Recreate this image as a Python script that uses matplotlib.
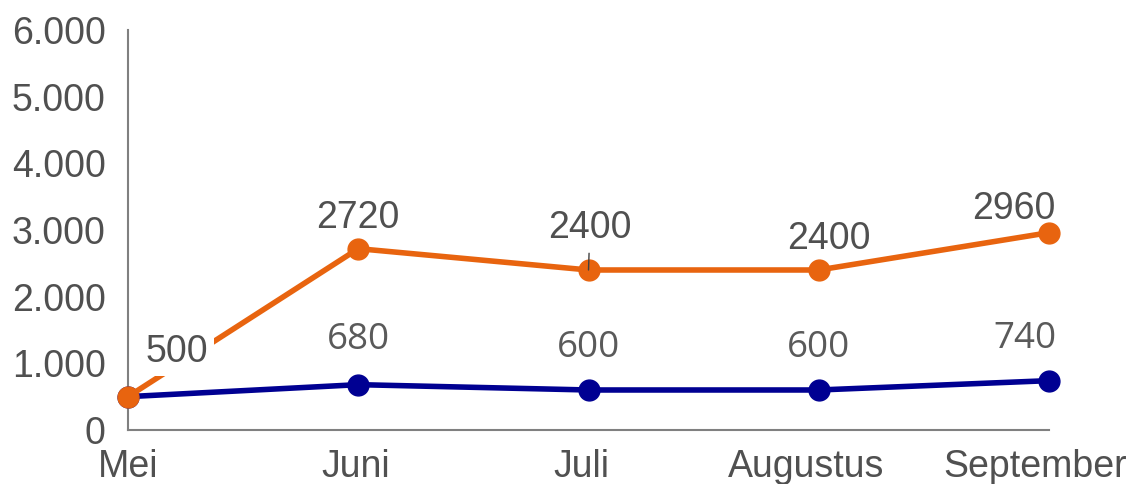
import matplotlib
matplotlib.use("Agg")
import matplotlib.pyplot as plt
from matplotlib.ticker import FuncFormatter
from matplotlib.transforms import ScaledTranslation

maanden = ["Mei", "Juni", "Juli", "Augustus", "September"]
oranje = [500, 2720, 2400, 2400, 2960]
blauw = [500, 680, 600, 600, 740]

# label offsets (points) per punt
oranje_offset = [(35, 32), (0, 22), (1, 30), (7, 22), (-25, 17)]
blauw_offset = [None, (0, 32), (0, 30), (0, 30), (-17, 30)]
# horizontale verschuiving x-labels (points)
xlabel_shift = [0, -2, -5, -9, -10]

fig = plt.figure(figsize=(11.3, 4.84), dpi=100)
ax = fig.add_axes([0.1133, 0.1116, 0.8150, 0.8264])

x = range(len(maanden))
ax.plot(x, blauw, color="#000092", lw=4, marker="o", ms=15, zorder=3)
ax.plot(x, oranje, color="#E8640F", lw=4, marker="o", ms=15, zorder=4)

for i, v in enumerate(oranje):
    dx, dy = oranje_offset[i]
    kw = dict(textcoords="offset points", ha="center", va="center",
              fontsize=27, color="#505050", family="Liberation Sans", zorder=5)
    if i == 0:
        kw["bbox"] = dict(boxstyle="square,pad=0.15", fc="white", ec="none")
    if i == 2:
        kw["arrowprops"] = dict(arrowstyle="-", color="#404040", lw=1,
                                shrinkA=3, shrinkB=0)
    ax.annotate(str(v), (i, v), xytext=(dx, dy), **kw)

for i, v in enumerate(blauw):
    if blauw_offset[i] is None:
        continue
    dx, dy = blauw_offset[i]
    ax.annotate(str(v), (i, v), xytext=(dx, dy), textcoords="offset points",
                ha="center", va="center", fontsize=26.5, color="#5a5a5a",
                family="Open Sans", zorder=5)

ax.set_xlim(0, len(maanden) - 1)
ax.set_ylim(0, 6000)
ax.set_yticks(range(0, 6001, 1000))
ax.yaxis.set_major_formatter(FuncFormatter(lambda v, p: f"{int(v):,}".replace(",", ".")))
ax.set_xticks(list(x))
ax.set_xticklabels(maanden)

for s in ["top", "right"]:
    ax.spines[s].set_visible(False)
for s in ["left", "bottom"]:
    ax.spines[s].set_color("#808080")
    ax.spines[s].set_linewidth(1.5)

ax.tick_params(axis="y", length=0, pad=16, labelsize=27, labelcolor="#505050")
ax.tick_params(axis="x", length=0, pad=14, labelsize=27, labelcolor="#505050")
for lbl in ax.get_xticklabels() + ax.get_yticklabels():
    lbl.set_family("Liberation Sans")
for lbl, sh in zip(ax.get_xticklabels(), xlabel_shift):
    lbl.set_transform(lbl.get_transform() + ScaledTranslation(sh / 72, 0, fig.dpi_scale_trans))

for a in ax.spines.values():
    a.set_clip_on(False)
for line in ax.lines:
    line.set_clip_on(False)

fig.savefig("out.png", dpi=100)
